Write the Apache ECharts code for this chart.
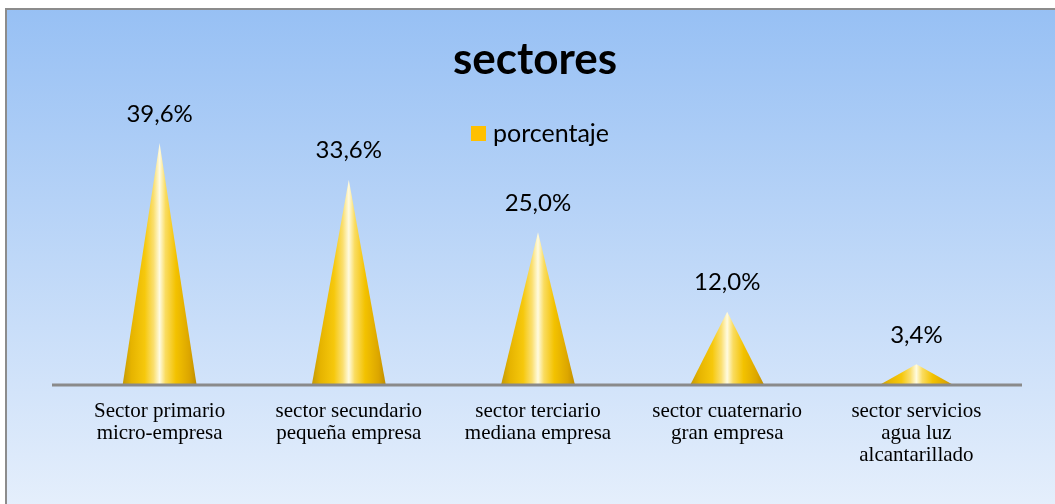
<!DOCTYPE html>
<html>
<head>
<meta charset="utf-8">
<script src="https://cdn.jsdelivr.net/npm/echarts@6/dist/echarts.min.js"></script>
<style>
html,body{margin:0;padding:0;background:#fff;}
#chart{width:1055px;height:504px;}
</style>
</head>
<body>
<div id="chart"></div>
<script>
const categories = [
  'Sector primario\nmicro-empresa',
  'sector secundario\npequeña empresa',
  'sector terciario\nmediana empresa',
  'sector cuaternario\ngran empresa',
  'sector servicios\nagua luz\nalcantarillado'
];
const porcentaje = [39.6, 33.6, 25.0, 12.0, 3.4];
const seriesName = 'porcentaje';
const titleText = 'sectores';

const chart = echarts.init(document.getElementById('chart'), null, {renderer: 'canvas'});

const coneGradient = new echarts.graphic.LinearGradient(0, 0, 1, 0, [
  {offset: 0, color: '#C49A06'},
  {offset: 0.12, color: '#E6B400'},
  {offset: 0.3, color: '#F6C80C'},
  {offset: 0.42, color: '#FADF70'},
  {offset: 0.5, color: '#FFFBE0'},
  {offset: 0.58, color: '#FADC60'},
  {offset: 0.72, color: '#F3C200'},
  {offset: 0.9, color: '#DCA600'},
  {offset: 1, color: '#C08E00'}
]);

const option = {
  animation: false,
  graphic: [
    {
      type: 'rect', z: -10, silent: true,
      shape: {x: 6, y: 9, width: 1060, height: 510},
      style: {
        fill: new echarts.graphic.LinearGradient(0, 0, 0, 1, [
          {offset: 0, color: '#97C0F4'},
          {offset: 1, color: '#E7F0FC'}
        ], false),
        stroke: '#8C8C8C', lineWidth: 2
      }
    },
    {
      type: 'line', z: 5, silent: true,
      shape: {x1: 52, y1: 385, x2: 1022, y2: 385},
      style: {stroke: '#8A8A8A', lineWidth: 3}
    }
  ],
  title: {
    text: titleText,
    left: 448,
    top: 33,
    textStyle: {fontFamily: 'Lato', fontWeight: 'bold', fontSize: 44, color: '#000'}
  },
  legend: {
    data: [{name: seriesName, itemStyle: {color: '#FFC000'}}],
    left: 466,
    top: 116,
    icon: 'rect',
    itemWidth: 15,
    itemHeight: 15,
    itemGap: 6,
    textStyle: {fontFamily: 'Lato', fontSize: 25, color: '#000', padding: [0, 0, 0, 2]}
  },
  grid: {left: 65, right: 44, top: 110, bottom: 119, containLabel: false},
  xAxis: {
    type: 'category',
    data: categories,
    axisLine: {show: false},
    axisTick: {show: false},
    axisLabel: {
      interval: 0,
      margin: 15,
      fontFamily: 'Liberation Serif',
      fontSize: 21,
      lineHeight: 22,
      color: '#000',
      align: 'center',
      verticalAlign: 'top'
    }
  },
  yAxis: {
    type: 'value',
    min: 0, max: 45,
    show: false,
    splitLine: {show: false}
  },
  series: [{
    name: seriesName,
    type: 'pictorialBar',
    data: porcentaje,
    symbol: 'triangle',
    symbolSize: [74, '100%'],
    symbolPosition: 'end',
    itemStyle: {color: coneGradient},
    label: {
      show: true,
      position: 'top',
      distance: 17,
      fontFamily: 'Lato',
      fontSize: 24,
      color: '#000',
      formatter: p => p.value.toFixed(1).replace('.', ',') + '%'
    },
    z: 3
  }]
};
chart.setOption(option);
</script>
</body>
</html>
